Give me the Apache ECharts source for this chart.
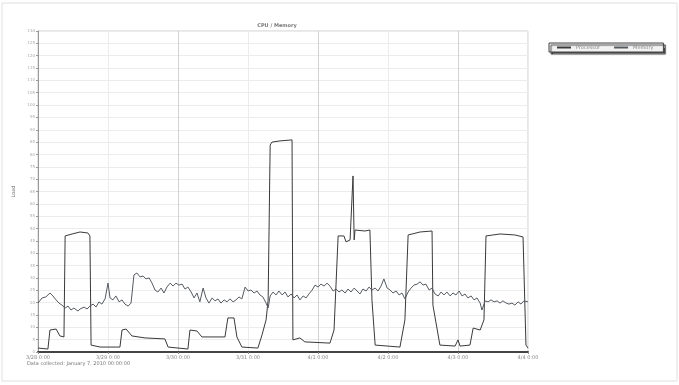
<!DOCTYPE html>
<html>
<head>
<meta charset="utf-8">
<script src="https://cdn.jsdelivr.net/npm/echarts@6/dist/echarts.min.js"></script>
<style>html,body{margin:0;padding:0;background:#fff}#c{width:679px;height:385px}</style>
</head>
<body>
<div id="c"></div>
<script>
// Time ticks (hours from start) and their labels
const tickLabels = ['3/28 0:00', '3/29 0:00', '3/30 0:00', '3/31 0:00', '4/1 0:00', '4/2 0:00', '4/3 0:00', '4/4 0:00'];

// Series A: block-shaped load (hours, value)
const hoursA = [0, 3.4, 4.1, 6.2, 7.5, 8.9, 9.3, 11.7, 14.4, 17.1, 17.8, 18.2, 21.3, 28.1, 28.8, 30.2, 32.2, 36.7, 43.5, 44.6, 51.4, 52.1, 54.5, 56.2, 64.1, 65.1, 67.2, 68.2, 69.9, 75.4, 76.8, 78.2, 78.9, 79.6, 80.2, 83.0, 87.1, 87.4, 89.8, 91.5, 100.1, 101.5, 102.9, 104.9, 105.6, 107.0, 108.0, 108.4, 108.7, 112.1, 113.8, 114.5, 115.6, 124.1, 125.8, 126.9, 131.0, 135.1, 135.4, 137.8, 143.0, 144.0, 144.7, 148.1, 149.2, 151.6, 152.9, 153.6, 158.4, 163.5, 166.3, 167.3, 168];
const valuesA = [1.6, 1.2, 8.9, 9.3, 6.5, 6.1, 47, 47.8, 48.6, 48.2, 47, 2.8, 2.0, 2.0, 8.9, 9.3, 6.5, 5.7, 5.3, 2.0, 1.2, 8.9, 8.5, 6.1, 6.1, 13.8, 13.8, 6.1, 2.0, 1.6, 6.9, 13, 21, 83.8, 85, 85.5, 85.9, 4.9, 5.7, 4.1, 3.6, 8.9, 47, 47, 44.6, 45.4, 71.3, 45.4, 49.4, 49, 49.4, 21, 2.8, 2.0, 13, 47.4, 48.6, 49, 19, 2.8, 2.4, 4.9, 2.4, 2.8, 9.7, 8.9, 13, 47, 47.8, 47.4, 46.6, 2.8, 1.6];

// Series B: noisy baseline load (hours, value)
const hoursB = [0, 1.4, 2.7, 4.1, 5.1, 6.2, 7.2, 8.2, 9.3, 10.3, 11.3, 12.3, 13.7, 14.4, 15.8, 16.8, 17.8, 18.9, 19.9, 20.9, 21.9, 23, 24, 24.7, 25.7, 26.7, 27.8, 28.8, 29.8, 30.9, 31.9, 32.9, 33.9, 35, 36, 37, 38.1, 39.1, 40.1, 41.1, 42.2, 43.2, 44.2, 45.3, 46.3, 47.3, 48.3, 49.4, 50.4, 51.4, 52.5, 53.5, 54.5, 55.5, 56.6, 57.6, 58.6, 59.7, 60.7, 61.7, 62.7, 63.8, 64.8, 65.8, 66.9, 67.9, 68.9, 69.9, 71, 72, 73, 74.1, 75.1, 76.1, 77.1, 78.2, 78.9, 79.6, 80.6, 81.6, 82.6, 83.7, 84.7, 85.7, 86.8, 87.8, 88.8, 89.8, 90.9, 91.9, 92.9, 94, 95, 96, 97, 98.1, 99.1, 100.1, 101.2, 102.2, 103.2, 104.2, 105.3, 106.3, 107.3, 108.4, 109.4, 110.4, 111.4, 112.5, 113.5, 114.5, 115.6, 116.6, 117.6, 118.6, 119.7, 120.7, 121.7, 122.8, 123.8, 124.8, 125.8, 126.9, 127.9, 128.9, 130, 131, 132, 133, 134.1, 135.1, 136.1, 137.2, 138.2, 139.2, 140.2, 141.3, 142.3, 143.3, 144.4, 145.4, 146.4, 147.4, 148.5, 149.5, 150.5, 151.6, 152.2, 153.3, 154.3, 155.3, 156.4, 157.4, 158.4, 159.4, 160.5, 161.5, 162.5, 163.5, 164.6, 165.6, 166.6, 168];
const valuesB = [19.8, 21.9, 22.3, 23.9, 22.7, 21.1, 19.8, 19.0, 17.8, 18.6, 17.0, 17.8, 16.6, 17.4, 18.2, 17.4, 18.6, 19.4, 18.2, 20.3, 19.4, 21.5, 27.9, 21.9, 21.1, 22.7, 20.3, 21.1, 19.4, 18.6, 19.8, 31.2, 32.0, 30.4, 30.8, 29.6, 30.0, 27.9, 25.1, 24.3, 25.9, 23.9, 26.3, 27.9, 26.7, 27.9, 27.1, 27.5, 25.5, 26.3, 24.3, 21.9, 23.9, 20.3, 25.9, 21.9, 19.8, 21.9, 20.7, 21.5, 19.8, 21.1, 20.3, 21.5, 20.3, 21.1, 22.3, 21.5, 26.3, 24.7, 25.1, 23.9, 24.7, 23.1, 22.3, 19.8, 17.8, 22.7, 24.3, 23.1, 24.7, 23.1, 24.3, 22.3, 23.5, 21.9, 23.1, 21.1, 22.7, 21.9, 23.5, 25.1, 27.1, 26.3, 27.5, 26.7, 27.9, 26.7, 24.7, 25.5, 24.3, 25.1, 23.9, 25.5, 24.3, 25.9, 24.7, 23.5, 25.5, 24.7, 26.3, 25.1, 25.9, 24.7, 26.7, 29.6, 25.9, 25.1, 23.9, 24.7, 23.1, 23.9, 21.5, 24.3, 25.9, 27.1, 27.5, 28.4, 27.1, 27.5, 25.1, 25.9, 23.5, 22.7, 24.3, 23.1, 24.3, 22.7, 23.9, 23.1, 24.7, 22.7, 23.5, 21.9, 22.7, 21.1, 21.9, 19.8, 17.0, 20.7, 20.3, 21.1, 20.3, 20.7, 19.8, 20.7, 19.8, 19.4, 19.8, 19.0, 20.3, 19.4, 20.7, 20.3];

const seriesNames = ['Processor', 'Memory'];

const chart = echarts.init(document.getElementById('c'));
const zip = (xs, ys) => xs.map((x, i) => [x, ys[i]]);

chart.setOption({
  backgroundColor: '#fff',
  animation: false,
  title: {
    text: 'CPU / Memory',
    left: 272, top: 18, textAlign: 'center',
    textStyle: { fontSize: 5, fontWeight: 'bold', color: '#777', fontFamily: 'DejaVu Sans' }
  },
  legend: {
    left: 549, top: 43, width: 112,
    itemWidth: 14, itemHeight: 2, itemGap: 14,
    padding: [2, 10, 2, 8],
    borderColor: '#444', borderWidth: 1,
    backgroundColor: '#f2f2f2',
    shadowColor: 'rgba(0,0,0,0.7)', shadowOffsetX: 2, shadowOffsetY: 2, shadowBlur: 1,
    icon: 'rect',
    textStyle: { fontSize: 5, color: '#888', fontFamily: 'DejaVu Sans' },
    data: seriesNames
  },
  grid: { left: 38, right: 151, top: 31, bottom: 33, show: true, borderColor: '#ccc', borderWidth: 1 },
  xAxis: {
    type: 'value', min: 0, max: 168, interval: 24,
    axisLine: { lineStyle: { color: '#444', width: 2 } },
    axisTick: { length: 2, lineStyle: { color: '#888' } },
    axisLabel: {
      fontSize: 5, color: '#888', margin: 3, fontFamily: 'DejaVu Sans',
      formatter: v => tickLabels[Math.round(v / 24)]
    },
    splitLine: { show: true, lineStyle: { color: ['#d2d2d2', '#ececec'], width: 1 } }
  },
  yAxis: {
    type: 'value', min: 0, max: 130, interval: 5,
    name: 'Load', nameLocation: 'middle', nameGap: 16, nameRotate: 90,
    nameTextStyle: { fontSize: 5, color: '#777', fontFamily: 'DejaVu Sans' },
    axisLine: { show: true, lineStyle: { color: '#999', width: 1 } },
    axisTick: { show: true, length: 2, lineStyle: { color: '#999' } },
    axisLabel: { fontSize: 4, color: '#aaa', margin: 3, fontFamily: 'DejaVu Sans' },
    splitLine: { show: true, lineStyle: { color: '#ececec', width: 1 } }
  },
  series: [
    {
      name: seriesNames[0], type: 'line', showSymbol: false,
      data: zip(hoursA, valuesA),
      lineStyle: { color: '#3a3a3a', width: 1 }, itemStyle: { color: '#3a3a3a' }
    },
    {
      name: seriesNames[1], type: 'line', showSymbol: false,
      data: zip(hoursB, valuesB),
      lineStyle: { color: '#555a60', width: 1 }, itemStyle: { color: '#555a60' }
    }
  ],
  graphic: [
    { type: 'rect', shape: { x: 2, y: 3, width: 675, height: 378 }, style: { fill: 'none', stroke: '#e2dede', lineWidth: 1 }, silent: true },
    { type: 'text', left: 27, top: 361, style: { text: 'Data collected: January 7, 2010 00:00:00', fontSize: 5, fill: '#777', fontFamily: 'DejaVu Sans' } }
  ]
});
</script>
</body>
</html>
